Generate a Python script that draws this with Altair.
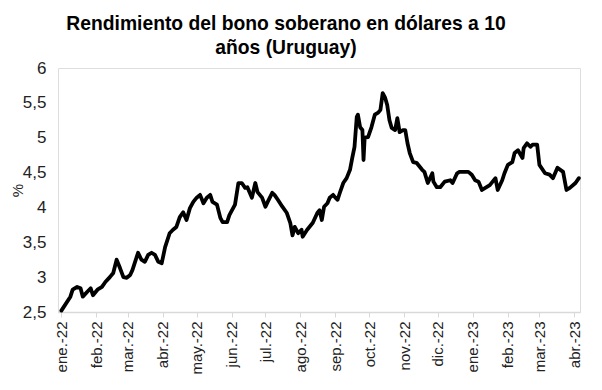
import altair as alt
import pandas as pd

dates = [
    "2022-01-01", "2022-01-03", "2022-01-09", "2022-01-11", "2022-01-15", "2022-01-18",
    "2022-01-20", "2022-01-24", "2022-01-27", "2022-01-29", "2022-02-02", "2022-02-06",
    "2022-02-09", "2022-02-13", "2022-02-16", "2022-02-19", "2022-02-22", "2022-02-25",
    "2022-02-28", "2022-03-03", "2022-03-05", "2022-03-10", "2022-03-13", "2022-03-16",
    "2022-03-19", "2022-03-22", "2022-03-25", "2022-03-28", "2022-03-31", "2022-04-03",
    "2022-04-07", "2022-04-10", "2022-04-13", "2022-04-16", "2022-04-19", "2022-04-22",
    "2022-04-25", "2022-04-28", "2022-05-01", "2022-05-04", "2022-05-07", "2022-05-10",
    "2022-05-13", "2022-05-15", "2022-05-19", "2022-05-22", "2022-05-24", "2022-05-28",
    "2022-05-30", "2022-06-04", "2022-06-07", "2022-06-10", "2022-06-13", "2022-06-15",
    "2022-06-19", "2022-06-22", "2022-06-24", "2022-06-28", "2022-07-01", "2022-07-03",
    "2022-07-07", "2022-07-09", "2022-07-12", "2022-07-16", "2022-07-20", "2022-07-23",
    "2022-07-25", "2022-07-27", "2022-07-30", "2022-08-02", "2022-08-03", "2022-08-07",
    "2022-08-09", "2022-08-12", "2022-08-16", "2022-08-18", "2022-08-20", "2022-08-22",
    "2022-08-25", "2022-08-27", "2022-08-30", "2022-09-01", "2022-09-03", "2022-09-05",
    "2022-09-08", "2022-09-11", "2022-09-14", "2022-09-16", "2022-09-18", "2022-09-20",
    "2022-09-21", "2022-09-23", "2022-09-25", "2022-09-26", "2022-09-27", "2022-09-30",
    "2022-10-03", "2022-10-06", "2022-10-09", "2022-10-11", "2022-10-13", "2022-10-15",
    "2022-10-17", "2022-10-19", "2022-10-21", "2022-10-24", "2022-10-26", "2022-10-27",
    "2022-10-28", "2022-10-31", "2022-11-02", "2022-11-04", "2022-11-06", "2022-11-09",
    "2022-11-12", "2022-11-17", "2022-11-19", "2022-11-22", "2022-11-26", "2022-11-27",
    "2022-11-30", "2022-12-03", "2022-12-07", "2022-12-12", "2022-12-14", "2022-12-18",
    "2022-12-20", "2022-12-25", "2022-12-28", "2022-12-31", "2023-01-03", "2023-01-06",
    "2023-01-09", "2023-01-12", "2023-01-16", "2023-01-21", "2023-01-23", "2023-01-27",
    "2023-01-29", "2023-02-01", "2023-02-05", "2023-02-07", "2023-02-10", "2023-02-14",
    "2023-02-15", "2023-02-18", "2023-02-21", "2023-02-23", "2023-02-27", "2023-03-01",
    "2023-03-06", "2023-03-10", "2023-03-13", "2023-03-17", "2023-03-22", "2023-03-25",
    "2023-03-28", "2023-04-02", "2023-04-05",
]

yields = [
    2.52, 2.57, 2.72, 2.82, 2.86, 2.84,
    2.72, 2.79, 2.84, 2.74, 2.82, 2.86,
    2.93, 3.00, 3.06, 3.25, 3.13, 3.00,
    2.99, 3.03, 3.10, 3.35, 3.25, 3.22,
    3.32, 3.35, 3.32, 3.22, 3.20, 3.43,
    3.63, 3.68, 3.72, 3.86, 3.93, 3.82,
    3.99, 4.08, 4.14, 4.18, 4.06, 4.14,
    4.18, 4.08, 4.04, 3.85, 3.79, 3.79,
    3.89, 4.04, 4.35, 4.35, 4.28, 4.29,
    4.14, 4.35, 4.22, 4.14, 4.01, 4.08,
    4.21, 4.18, 4.11, 4.01, 3.92, 3.78,
    3.60, 3.72, 3.63, 3.68, 3.58, 3.68,
    3.72, 3.78, 3.92, 3.96, 3.82, 4.01,
    4.06, 4.14, 4.18, 4.14, 4.11, 4.21,
    4.35, 4.42, 4.54, 4.71, 4.87, 5.30,
    5.33, 5.15, 5.11, 4.68, 5.00, 5.01,
    5.15, 5.33, 5.36, 5.40, 5.64, 5.58,
    5.47, 5.25, 5.14, 5.11, 5.28, 5.18,
    5.08, 5.11, 5.11, 4.92, 4.78, 4.65,
    4.64, 4.54, 4.51, 4.35, 4.49, 4.37,
    4.29, 4.29, 4.37, 4.39, 4.35, 4.49,
    4.51, 4.51, 4.51, 4.47, 4.39, 4.37,
    4.25, 4.28, 4.32, 4.42, 4.25, 4.39,
    4.49, 4.61, 4.65, 4.78, 4.82, 4.71,
    4.85, 4.92, 4.87, 4.90, 4.90, 4.61,
    4.49, 4.47, 4.42, 4.57, 4.51, 4.25,
    4.28, 4.35, 4.42,
]

y_ticks = [2.5, 3, 3.5, 4, 4.5, 5, 5.5, 6]
month_labels = ["ene.", "feb.", "mar.", "abr.", "may.", "jun.",
                "jul.", "ago.", "sep.", "oct.", "nov.", "dic."]
title_lines = ["Rendimiento del bono soberano en dólares a 10", "años (Uruguay)"]

df = pd.DataFrame({"fecha": dates, "rend": yields})

month_js = "[" + ",".join("'%s'" % m for m in month_labels) + "]"

chart = alt.Chart(df).mark_line(color="black", strokeWidth=3.8, strokeJoin="round", strokeCap="round").encode(
    x=alt.X(
        "fecha:T",
        scale=alt.Scale(type="utc", domain=["2021-12-29", "2023-04-06"]),
        axis=alt.Axis(
            title=None,
            tickCount={"interval": "month", "step": 1},
            labelExpr=month_js + "[utcmonth(datum.value)] + '-' + utcFormat(datum.value, '%y')",
            labelAngle=-90,
            labelAlign="right",
            labelBaseline="middle",
            labelFontSize=15,
            labelPadding=4,
            labelColor="#222222",
            labelFont="Liberation Sans",
            domainColor="#d9d9d9",
            domainWidth=1.5,
            tickColor="#d9d9d9",
            tickSize=5,
            grid=False,
            labelOverlap=False,
        ),
    ),
    y=alt.Y(
        "rend:Q",
        scale=alt.Scale(domain=[2.5, 6], nice=False, zero=False),
        axis=alt.Axis(
            title="%",
            titleAngle=270,
            titleX=-41,
            titleY=122,
            titleAlign="center",
            titleBaseline="middle",
            titleFontSize=15,
            titleFontWeight="normal",
            titleFont="Liberation Sans",
            titleColor="#222222",
            values=y_ticks,
            labelExpr="replace(toString(datum.value), '.', ',')",
            labelFontSize=17,
            labelPadding=12,
            labelColor="#222222",
            labelFont="Liberation Sans",
            domain=False,
            ticks=False,
            grid=False,
        ),
    ),
).properties(
    width=522,
    height=244,
    autosize=alt.AutoSizeParams(type="none"),
    padding={"left": 50, "top": 60, "right": 14, "bottom": 70},
    title=alt.TitleParams(
        text=title_lines,
        fontSize=19.3,
        fontWeight="bold",
        font="Liberation Sans",
        color="black",
        anchor="middle",
        dx=-33,
        lineHeight=24,
        offset=1,
    ),
).configure_view(stroke=None).configure(background="white")

chart.save("out.html", embed_options={"renderer": "svg", "actions": False})
